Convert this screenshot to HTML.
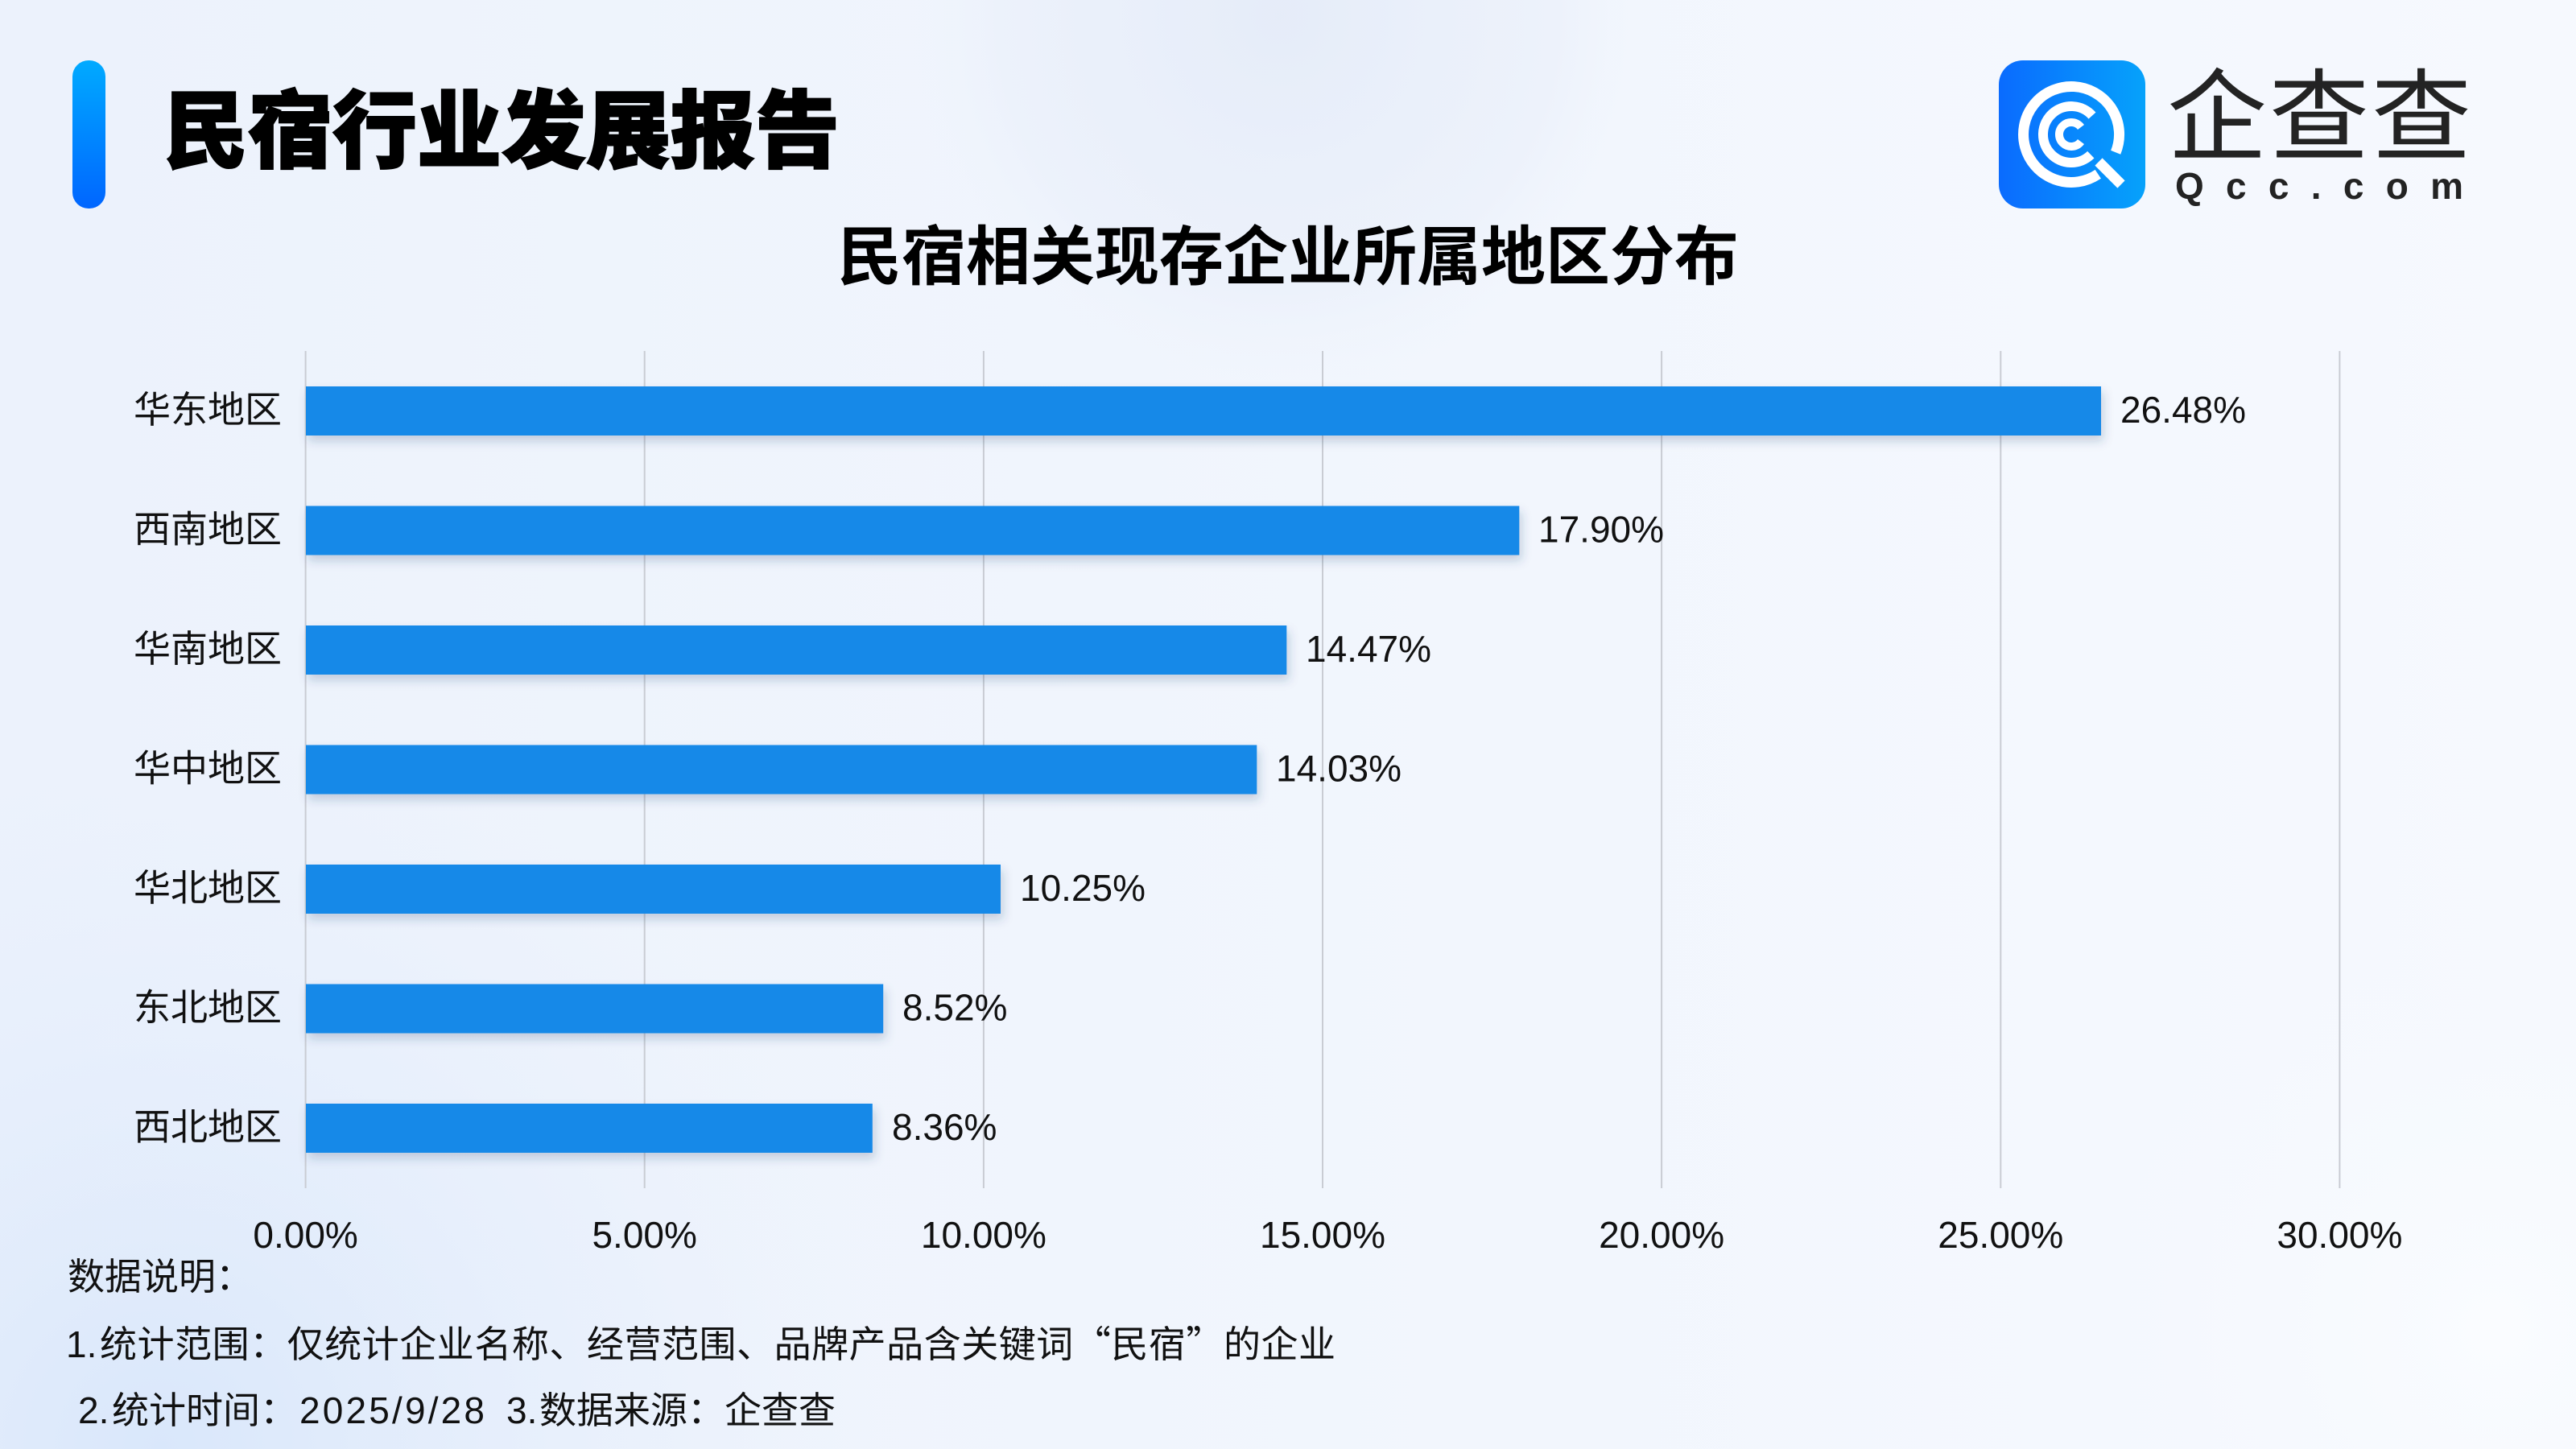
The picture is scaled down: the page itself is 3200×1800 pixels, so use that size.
<!DOCTYPE html>
<html><head><meta charset="utf-8"><style>
html,body{margin:0;padding:0;width:3200px;height:1800px;overflow:hidden;background:#f0f4fc;}
svg{display:block;}
</style></head><body>
<svg width="3200" height="1800" viewBox="0 0 3200 1800" xmlns="http://www.w3.org/2000/svg">
<defs>
<linearGradient id="bg" x1="0" y1="0" x2="1" y2="0">
<stop offset="0" stop-color="#ecf2fc"/><stop offset="1" stop-color="#f6f9fe"/>
</linearGradient>
<radialGradient id="blobTop" cx="1590" cy="20" r="460" gradientUnits="userSpaceOnUse">
<stop offset="0" stop-color="#e4ebf8" stop-opacity="0.9"/><stop offset="0.75" stop-color="#e8eef9" stop-opacity="0.5"/><stop offset="1" stop-color="#eef3fc" stop-opacity="0"/>
</radialGradient>
<radialGradient id="blobBL" cx="200" cy="1800" r="900" gradientUnits="userSpaceOnUse">
<stop offset="0" stop-color="#d9e7fb" stop-opacity="1"/><stop offset="1" stop-color="#e6eefb" stop-opacity="0"/>
</radialGradient>
<radialGradient id="blobBR" cx="3100" cy="1650" r="500" gradientUnits="userSpaceOnUse">
<stop offset="0" stop-color="#fafcff" stop-opacity="1"/><stop offset="1" stop-color="#f6f9fe" stop-opacity="0"/>
</radialGradient>
<linearGradient id="accent" x1="0" y1="0" x2="0" y2="1">
<stop offset="0" stop-color="#00aaff"/><stop offset="1" stop-color="#0066ff"/>
</linearGradient>
<linearGradient id="logo" x1="0" y1="0" x2="1" y2="0">
<stop offset="0" stop-color="#0a6bfe"/><stop offset="1" stop-color="#06a2fb"/>
</linearGradient>
<filter id="sh" x="-5%" y="-30%" width="110%" height="180%">
<feDropShadow dx="3" dy="7" stdDeviation="6" flood-color="#27446f" flood-opacity="0.22"/>
</filter>
</defs>

<rect width="3200" height="1800" fill="url(#bg)"/>
<rect width="3200" height="1800" fill="url(#blobTop)"/>
<rect width="3200" height="1800" fill="url(#blobBL)"/>
<rect width="3200" height="1800" fill="url(#blobBR)"/>

<!-- header -->
<rect x="90" y="75" width="41" height="184" rx="20" fill="url(#accent)"/>
<text x="203" y="200" font-family="'Liberation Sans','Noto Sans CJK SC',sans-serif" font-size="105" font-weight="900" fill="#000" stroke="#000" stroke-width="2">民宿行业发展报告</text>

<!-- logo -->
<rect x="2483" y="75" width="182" height="184" rx="30" fill="url(#logo)"/>
<g fill="none" stroke="#fff" stroke-linecap="butt" transform="translate(2573,167)">
<path d="M 33.3 49.3 A 59.5 59.5 0 1 1 55.2 22.3" stroke-width="13"/>
<line x1="34" y1="34" x2="62" y2="62" stroke-width="13"/>
<path d="M 24.3 25.2 A 35 35 0 1 1 26.0 -23.4" stroke-width="12"/>
<path d="M 12 9 A 15 15 0 1 1 12 -9" stroke-width="10"/>
</g>
<text x="2692" y="189" font-family="'Noto Sans CJK SC',sans-serif" font-size="124" font-weight="400" letter-spacing="3" fill="#232323">企查查</text>
<text x="2702" y="247" font-family="'Liberation Sans',sans-serif" font-size="46" font-weight="700" fill="#232323" textLength="358" lengthAdjust="spacing">Qcc.com</text>

<!-- subtitle -->
<text x="1600" y="347" text-anchor="middle" font-family="'Liberation Sans','Noto Sans CJK SC',sans-serif" font-size="80" font-weight="700" fill="#000">民宿相关现存企业所属地区分布</text>

<!-- grid -->
<g stroke="#c9ccd3" stroke-width="2">
<line x1="379.6" y1="436" x2="379.6" y2="1476"/>
<line x1="800.7" y1="436" x2="800.7" y2="1476"/>
<line x1="1221.9" y1="436" x2="1221.9" y2="1476"/>
<line x1="1643.0" y1="436" x2="1643.0" y2="1476"/>
<line x1="2064.1" y1="436" x2="2064.1" y2="1476"/>
<line x1="2485.3" y1="436" x2="2485.3" y2="1476"/>
<line x1="2906.4" y1="436" x2="2906.4" y2="1476"/>
</g>

<!-- bars -->
<g fill="#1589e8" filter="url(#sh)">
<rect x="380" y="480" width="2230" height="61"/>
<rect x="380" y="628.5" width="1507.3" height="61"/>
<rect x="380" y="777" width="1218.3" height="61"/>
<rect x="380" y="925.5" width="1181.3" height="61"/>
<rect x="380" y="1074" width="863" height="61"/>
<rect x="380" y="1222.5" width="717.2" height="61"/>
<rect x="380" y="1371" width="703.8" height="61"/>
</g>

<!-- category labels -->
<g font-family="'Liberation Sans','Noto Sans CJK SC',sans-serif" font-size="46" fill="#111" text-anchor="end">
<text x="350" y="525">华东地区</text>
<text x="350" y="673.5">西南地区</text>
<text x="350" y="822">华南地区</text>
<text x="350" y="970.5">华中地区</text>
<text x="350" y="1119">华北地区</text>
<text x="350" y="1267.5">东北地区</text>
<text x="350" y="1416">西北地区</text>
</g>

<!-- value labels -->
<g font-family="'Liberation Sans',sans-serif" font-size="46" fill="#111">
<text x="2634" y="525">26.48%</text>
<text x="1911" y="673.5">17.90%</text>
<text x="1622" y="822">14.47%</text>
<text x="1585" y="970.5">14.03%</text>
<text x="1267" y="1119">10.25%</text>
<text x="1121" y="1267.5">8.52%</text>
<text x="1108" y="1416">8.36%</text>
</g>

<!-- x axis labels -->
<g font-family="'Liberation Sans',sans-serif" font-size="46" fill="#111" text-anchor="middle">
<text x="379.6" y="1550">0.00%</text>
<text x="800.7" y="1550">5.00%</text>
<text x="1221.9" y="1550">10.00%</text>
<text x="1643.0" y="1550">15.00%</text>
<text x="2064.1" y="1550">20.00%</text>
<text x="2485.3" y="1550">25.00%</text>
<text x="2906.4" y="1550">30.00%</text>
</g>

<!-- footnote -->
<g font-family="'Liberation Sans','Noto Sans CJK SC',sans-serif" font-size="46" fill="#111">
<text x="84" y="1602">数据说明：</text>
<text y="1686"><tspan x="82">1.</tspan><tspan x="124" font-family="'Noto Sans CJK SC',sans-serif" textLength="1535" lengthAdjust="spacing">统计范围：仅统计企业名称、经营范围、品牌产品含关键词“民宿”的企业</tspan></text>
<text y="1768"><tspan x="97">2.</tspan><tspan x="139">统计时间：</tspan><tspan x="372" textLength="230" lengthAdjust="spacing">2025/9/28</tspan><tspan x="629">3.</tspan><tspan x="670">数据来源：</tspan><tspan x="900">企查查</tspan></text>
</g>
</svg>
</body></html>
